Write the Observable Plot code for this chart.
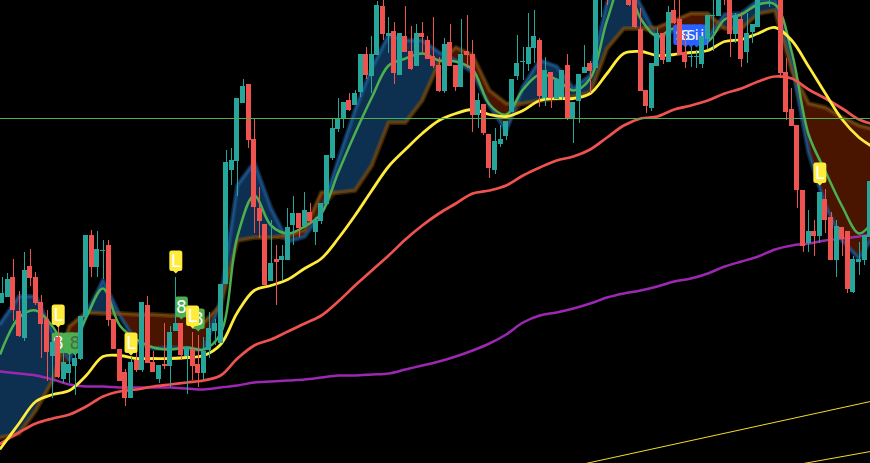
<!DOCTYPE html>
<html>
<head>
<meta charset="utf-8">
<style>html,body{margin:0;padding:0;background:#000;overflow:hidden}</style>
<script src="https://cdn.jsdelivr.net/npm/d3@7"></script>
<script src="https://cdn.jsdelivr.net/npm/@observablehq/plot@0.6"></script>
</head>
<body>
<div id="chart"></div>
<script>
// Levels: a smaller level sits higher on the chart.
const opens=[303,297,277,311,338,266,277,302,319,356,337,379,373,366,359,317,235,267,251,245,319,349,372,398,360,370,305,362,379,364,366,331,323,356,349,364,373,350,331,343,284,170,161,103,84,139,208,224,281,259,260,260,225,213,226,212,232,221,204,158,129,118,100,105,92,54,76,55,6,36,31,75,36,51,66,33,40,56,65,91,42,65,87,51,54,115,104,134,170,144,136,112,76,62,64,48,40,98,72,99,97,65,119,101,73,63,68,-10,-40,-10,-40,-10,-30,-10,29,90,108,66,33,62,10,19,52,57,57,64,39,16,16,-20,-10,34,19,52,32,27,-10,-10,-10,-10,72,109,125,190,243,231,236,199,217,260,227,231,292,262,260,237];
const closes=[293,279,310,336,270,278,303,324,352,342,377,362,364,358,316,235,267,249,250,320,349,381,398,362,370,302,363,372,365,366,332,323,355,347,366,373,351,328,323,284,162,160,98,86,140,207,221,285,263,262,256,227,213,228,210,221,220,203,155,128,118,102,110,93,54,75,54,5,34,33,73,33,52,69,33,37,59,66,91,44,66,87,54,55,115,100,133,168,141,139,121,79,63,61,47,36,96,70,98,79,70,119,102,74,67,71,-10,-40,-10,-40,-10,-40,5,27,91,106,63,33,60,12,23,55,62,56,56,36,15,15,-20,-5,34,15,59,33,24,-10,-30,-30,-30,73,112,126,190,246,231,236,192,220,260,226,239,289,259,259,235,181];
const highs=[277,273,259,291,252,249,272,295,310,340,327,348,353,350,316,235,230,231,240,240,319,349,369,357,343,302,296,351,365,323,326,277,323,347,332,335,337,312,319,284,150,148,98,79,84,118,187,224,220,245,245,208,196,213,192,203,217,203,155,118,98,102,93,90,54,47,36,1,0,17,22,33,6,26,24,22,36,17,57,38,24,65,19,15,40,93,104,134,128,125,121,79,35,47,13,10,38,57,72,79,70,54,102,74,45,61,-15,-50,-50,-50,-50,-50,-40,-15,8,90,63,28,33,6,0,0,33,47,50,36,15,-5,-30,-30,-15,13,12,13,24,-15,-40,-40,-40,-15,58,88,125,190,210,220,192,189,212,220,227,231,256,242,235,181];
const lows=[303,297,321,337,341,286,305,358,381,398,378,383,383,395,360,317,277,277,279,326,349,381,406,398,372,372,363,372,383,369,387,331,360,394,380,387,380,358,345,343,284,185,196,103,148,233,238,285,281,305,280,260,245,237,226,224,245,224,204,160,132,128,111,105,97,79,93,55,40,53,84,75,52,70,66,53,59,68,92,93,66,91,87,68,132,128,135,178,174,147,140,112,80,80,71,63,107,106,108,99,100,120,143,123,73,93,68,17,5,-5,-5,-5,6,28,91,113,111,66,64,62,24,55,68,67,68,68,49,51,16,5,57,43,67,63,43,27,-5,7,-5,78,120,126,208,252,252,256,243,233,260,277,256,293,293,275,265,240];

const lineBars=[-0.304,3,6,9,12,15,18,21,24,27,30,33,36,39,42,45,48,51,54,57,60,63,66,69,72,75,78,81,84,87,90,93,96,99,102,105,108,111,114,117,120,123,126,129,132,135,138,141,144,147,150,153,155.05];
const yellowLine=[448,423,401,394,390,375,356,355,358,358,358,357,355,344,312,290,285,279,268,258,238,215,190,166,149,133,120,113,109,114,116,110,100,98,98,93,73,53,51,55,54,52,50,41,39,33,27,40,66,93,119,137,145];
const redLine=[443,432,423,418,414,406,396,391,389,386,384,382,380,375,358,345,339,331,323,315,301,285,270,255,239,225,213,203,193,190,185,175,167,160,156,149,137,125,118,116,109,105,100,93,88,81,76,78,89,98,108,119,123];
const purpleLine=[371,373,375,379,384,386,386,387,387,387,387,388,389,387,385,382,381,380,379,377,375,375,374,373,369,365,361,356,350,343,334,322,315,312,308,303,297,293,290,286,281,278,273,266,261,256,249,245,243,240,238,236,234];
const greenLine=[353,317,310,326,351,317,288,325,339,347,349,347,349,333,236,195,225,233,226,213,172,133,97,65,58,53,60,61,69,104,114,89,74,79,90,78,20,-22,18,36,28,40,41,19,14,4,4,52,134,171,206,233,224];
const cloudFast=[323,296,296,332,360,314,280,315,342,348,347,348,350,300,185,162,208,241,236,212,160,110,68,35,40,40,52,60,72,105,130,86,60,66,88,75,3,-30,5,38,30,42,38,14,13,0,-2,62,152,205,240,258,240];
const cloudSlow=[437,433,410,380,326,312,313,313,314,314,315,315,322,305,240,237,237,235,230,192,192,190,165,122,122,100,62,47,55,90,103,103,100,98,96,92,48,28,28,27,20,13,13,28,28,13,10,70,103,107,117,125,128];

const trendBarsA=[104.2,155.05], trendLevelsA=[463,401];
const trendBarsB=[143.1,155.05], trendLevelsB=[463,451];
const guideLevel=[118];

const buyBars=[10,23,31,34,146], buyLevels=[315,343,261,316,173], buyLabels=["L","L","L","L","L"];
const greenBars=[10,12,13,32,35], greenLevels=[343,343,343,307,319], greenLabels=["8","","8","8","8"], greenInk=["#ffffff","#ffffff","#3f6f45","#ffffff","#ffffff"];
const blueBars=[121,122,123,124,125], blueLevels=[35,35,35,35,35], blueLabels=["S","S","S","i","i"];

const candles=opens.map((o,i)=>({bar:i,left:i-.46,right:i+.46,open:o,close:closes[i],high:highs[i],low:lows[i],color:closes[i]<opens[i]?"#26a69a":"#ef5350"}));
const rows=lineBars.map((b,i)=>({bar:b,yellow:yellowLine[i],red:redLine[i],purple:purpleLine[i],green:greenLine[i],fast:cloudFast[i],slow:cloudSlow[i],lo:Math.max(cloudFast[i],cloudSlow[i])}));
const flags=(b,l,t,ink)=>b.map((v,i)=>({bar:v,level:l[i],label:t[i],ink:ink?ink[i]:"#fff"}));

const flagSymbol={draw(c){
  const w=6.5,t=-11,b=9.5,r=2.5;
  c.moveTo(-w+r,t);c.lineTo(w-r,t);c.arcTo(w,t,w,t+r,r);
  c.lineTo(w,b-r);c.arcTo(w,b,w-r,b,r);c.lineTo(2.5,b);c.lineTo(0,12);c.lineTo(-2.5,b);
  c.lineTo(-w+r,b);c.arcTo(-w,b,-w,b-r,r);c.lineTo(-w,t+r);c.arcTo(-w,t,-w+r,t,r);c.closePath();
}};
const flagMarks=(data,fill,size)=>[
  Plot.dot(data,{x:"bar",y:"level",symbol:flagSymbol,r:5,fill,stroke:"none"}),
  Plot.text(data,{x:"bar",y:"level",text:"label",fill:"ink",fontSize:size,fontFamily:"DejaVu Sans",textAnchor:"middle",lineAnchor:"middle"})
];
const crisp={clip:true,shapeRendering:"crispEdges"};
const lineOpts=(y,stroke,w,op=1,curve="catmull-rom")=>({x:"bar",y,stroke,strokeWidth:w,strokeOpacity:op,curve,clip:true});

const fig=Plot.plot({
  width:870,height:463,margin:0,
  style:{background:"#000",display:"block"},
  x:{domain:[-0.304,155.05],range:[0,870],axis:null},
  y:{domain:[0,463],range:[0,463],axis:null},
  marks:[
    Plot.area(rows,{x1:"bar",y1:"fast",y2:"lo",fill:"#0d3050",clip:true}),
    Plot.area(rows,{x1:"bar",y1:"slow",y2:"lo",fill:"#4a1500",clip:true}),
    Plot.line(rows,lineOpts("fast","#1c5a96",5,.45,"linear")),
    Plot.line(rows,lineOpts("fast","#1c5a96",2,.7,"linear")),
    Plot.line(rows,lineOpts("slow","#8a5510",5,.4,"linear")),
    Plot.line(rows,lineOpts("slow","#7a4e14",2,.7,"linear")),
    Plot.line(rows,lineOpts("green","#4caf50",2.5)),
    Plot.line(rows,lineOpts("purple","#9c27b0",2.5)),
    Plot.line(rows,lineOpts("red","#ef5350",2.7)),
    Plot.line(rows,lineOpts("yellow","#ffeb3b",2.8)),
    Plot.line(trendBarsA.map((b,i)=>({bar:b,level:trendLevelsA[i]})),{x:"bar",y:"level",stroke:"#f2dc2e",strokeWidth:1,clip:true}),
    Plot.line(trendBarsB.map((b,i)=>({bar:b,level:trendLevelsB[i]})),{x:"bar",y:"level",stroke:"#f2dc2e",strokeWidth:1,clip:true}),
    ...flagMarks(flags(blueBars,blueLevels,blueLabels),"#2962ff",14),
    ...flagMarks(flags(greenBars,greenLevels,greenLabels,greenInk),"#4caf50",17),
    Plot.ruleX(candles,{x:"bar",y1:"high",y2:"low",stroke:"color",strokeWidth:1,...crisp}),
    Plot.rect(candles,{x1:"left",x2:"right",y1:"open",y2:"close",fill:"color",...crisp}),
    ...flagMarks(flags(buyBars,buyLevels,buyLabels),"#ffeb3b",17),
    Plot.ruleY(guideLevel,{stroke:"#4caf50",strokeWidth:1,shapeRendering:"crispEdges"})
  ]
});
document.getElementById("chart").appendChild(fig);
</script>
</body>
</html>
